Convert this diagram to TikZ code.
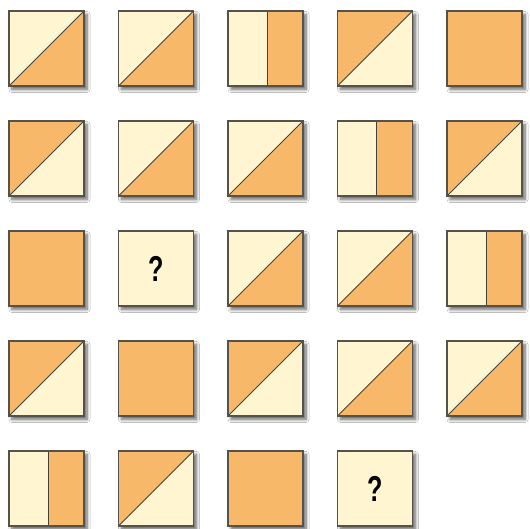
\documentclass[tikz,border=0pt]{standalone}
\usepackage{fontspec}
\setsansfont{Liberation Sans}
\usetikzlibrary{shadows.blur,calc}
\definecolor{lightc}{HTML}{FFF6D1}
\definecolor{orangec}{HTML}{F7B869}
\definecolor{edgec}{HTML}{55524C}
\tikzset{
  tile/.style={draw=edgec, line width=1.8pt, minimum size=75pt, inner sep=0pt,
    outer sep=0pt, fill=lightc,
    blur shadow={shadow xshift=3pt, shadow yshift=-3.5pt, shadow blur steps=8, shadow blur radius=3pt, shadow opacity=60}},
  diagline/.style={draw=edgec!80!black, line width=0.9pt},
  lo/.style={tile, path picture={
      \fill[orangec] (path picture bounding box.south west) -- (path picture bounding box.north east) -- (path picture bounding box.south east) -- cycle;
      \draw[diagline] (path picture bounding box.south west) -- (path picture bounding box.north east);}},
  ol/.style={tile, path picture={
      \fill[orangec] (path picture bounding box.south west) -- (path picture bounding box.north east) -- (path picture bounding box.north west) -- cycle;
      \draw[diagline] (path picture bounding box.south west) -- (path picture bounding box.north east);}},
  vs/.style={tile, path picture={
      \fill[orangec] ($(path picture bounding box.south west)!0.52!(path picture bounding box.south east)$) rectangle (path picture bounding box.north east);
      \draw[diagline] ($(path picture bounding box.south west)!0.52!(path picture bounding box.south east)$) -- ($(path picture bounding box.north west)!0.52!(path picture bounding box.north east)$);}},
  fo/.style={tile, fill=orangec},
  qm/.style={tile, font=\sffamily\bfseries\fontsize{36}{36}\selectfont},
}
\begin{document}
\begin{tikzpicture}[x=1pt,y=1pt]
\useasboundingbox[fill=white] (0,0) rectangle (530,529);
% row 1
\node[lo] (t11) at (46.5,480.5) {};
\node[lo] (t12) at (156,480.5) {};
\node[vs] (t13) at (265.5,480.5) {};
\node[ol] (t14) at (375,480.5) {};
\node[fo] (t15) at (484.5,480.5) {};
% row 2
\node[ol] (t21) at (46.5,370.5) {};
\node[lo] (t22) at (156,370.5) {};
\node[lo] (t23) at (265.5,370.5) {};
\node[vs] (t24) at (375,370.5) {};
\node[ol] (t25) at (484.5,370.5) {};
% row 3
\node[fo] (t31) at (46.5,260.5) {};
\node[qm] (t32) at (156,260.5) {\scalebox{0.7}[1]{?}};
\node[lo] (t33) at (265.5,260.5) {};
\node[lo] (t34) at (375,260.5) {};
\node[vs] (t35) at (484.5,260.5) {};
% row 4
\node[ol] (t41) at (46.5,150.5) {};
\node[fo] (t42) at (156,150.5) {};
\node[ol] (t43) at (265.5,150.5) {};
\node[lo] (t44) at (375,150.5) {};
\node[lo] (t45) at (484.5,150.5) {};
% row 5
\node[vs] (t51) at (46.5,40.5) {};
\node[ol] (t52) at (156,40.5) {};
\node[fo] (t53) at (265.5,40.5) {};
\node[qm] (t54) at (375,40.5) {\scalebox{0.7}[1]{?}};
\end{tikzpicture}
\end{document}
